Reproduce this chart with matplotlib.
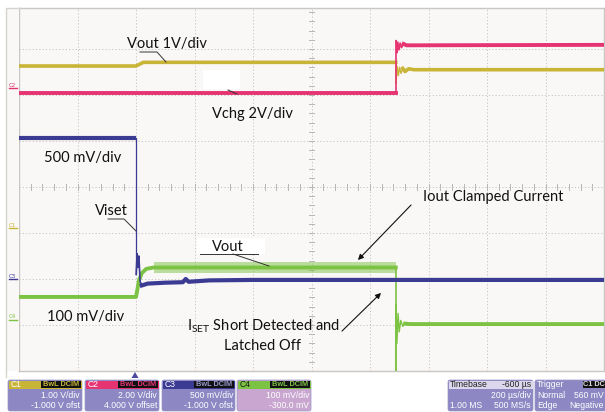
import matplotlib
matplotlib.use("Agg")
import matplotlib.pyplot as plt
from matplotlib.patches import FancyBboxPatch, Rectangle, Polygon
import numpy as np

# ---------------- data (time in µs relative to trigger, level in screen divisions) -------------
c1_t = [-400, 0, 25, 888, 889, 893, 897, 901, 906, 912, 920, 932, 950, 1600]
c1_v = [6.63, 6.63, 6.71, 6.71, 6.26, 6.62, 6.42, 6.60, 6.47, 6.58, 6.51, 6.57, 6.55, 6.55]

c2_t = [-400, 888, 889, 892, 895, 899, 903, 908, 915, 925, 1600]
c2_v = [6.04, 6.04, 7.18, 6.92, 7.15, 6.98, 7.13, 7.03, 7.11, 7.08, 7.09]

c3_pre_t = [-400, 0]
c3_pre_v = [5.06, 5.06]
c3_t = [0.5, 4, 7, 10, 14, 20, 40, 100, 160, 170, 180, 250, 400, 888, 1600]
c3_v = [2.10, 2.55, 2.25, 2.50, 1.95, 1.86, 1.90, 1.92, 1.93, 2.00, 1.94, 1.97, 1.98, 1.98, 1.98]

c4_t = [-400, 0, 5, 10, 20, 35, 60, 888]
c4_v = [1.61, 1.61, 1.78, 1.97, 2.13, 2.22, 2.25, 2.25]
c4_post_t = [888, 889, 892, 896, 900, 905, 912, 920, 935, 1600]
c4_post_v = [0.0, 1.45, 0.60, 1.25, 0.85, 1.10, 0.97, 1.03, 1.02, 1.02]
c4_band_t = [60, 888]
c4_band_lo = [2.13, 2.13]
c4_band_hi = [2.37, 2.37]

ch_labels = ["C1", "C2", "C3", "C4"]
ch_colors = ["#c8b437", "#e63473", "#3b3b94", "#7cc243"]
ch_scale = ["1.00 V/div", "2.00 V/div", "500 mV/div", "100 mV/div"]
ch_offset = ["-1.000 V ofst", "4.000 V offset", "-1.000 V ofst", "-300.0 mV"]

# ---------------- figure -------------------------------------------------------------------------
W, H = 605, 412
fig = plt.figure(figsize=(W / 100, H / 100), dpi=100)
fig.patch.set_facecolor("white")

bg = "#faf8f6"
L, R, T, B = 19, 604, 8, 371
ax = fig.add_axes([L / W, 1 - B / H, (R - L) / W, (B - T) / H])
ax.set_xlim(-400, 1600)
ax.set_ylim(0, (B - T) / 46.0)
ax.set_facecolor(bg)
for s in ax.spines.values():
    s.set_color("#c9c6c4")
    s.set_linewidth(1.0)
ax.set_xticks([])
ax.set_yticks([])

gcol = "#c6c4c2"
for xx in range(-200, 1600, 200):
    ax.axvline(xx, color=gcol, lw=0.7, ls=(0, (1.2, 2.2)), zorder=1)
for yy in range(1, 8):
    ax.axhline(yy, color=gcol, lw=0.7, ls=(0, (1.2, 2.2)), zorder=1)
# centre axis ticks
for yy in np.arange(0.2, 7.85, 0.2):
    ax.plot([600 - 10, 600 + 10], [yy, yy], color="#b8b6b4", lw=0.7, zorder=1)
for xx in np.arange(-360, 1600, 40):
    ax.plot([xx, xx], [4 - 0.065, 4 + 0.065], color="#b8b6b4", lw=0.7, zorder=1)

# traces
ax.plot(c1_t[:4], c1_v[:4], color=ch_colors[0], lw=2.6, zorder=3)
ax.plot(c1_t[4:], c1_v[4:], color=ch_colors[0], lw=1.0, zorder=3)
ax.plot(c1_t[9:], c1_v[9:], color=ch_colors[0], lw=2.6, zorder=3)
ax.plot([888, 888], [c1_v[3], c1_v[4]], color=ch_colors[0], lw=1.2, zorder=3)

ax.plot(c2_t[:2], c2_v[:2], color=ch_colors[1], lw=2.8, zorder=3)
ax.plot(c2_t[2:], c2_v[2:], color=ch_colors[1], lw=1.2, zorder=3)
ax.plot(c2_t[8:], c2_v[8:], color=ch_colors[1], lw=2.8, zorder=3)
ax.plot([888, 888], [c2_v[1], c2_v[2]], color=ch_colors[1], lw=1.2, zorder=3)

ax.fill_between(c4_band_t, c4_band_lo, c4_band_hi, color=ch_colors[3], alpha=0.5, lw=0, zorder=3)
ax.plot(c4_t, c4_v, color=ch_colors[3], lw=2.8, zorder=4)
ax.plot([888, 888], [c4_v[-1], c4_post_v[0]], color=ch_colors[3], lw=1.2, zorder=4)
ax.plot(c4_post_t[:8], c4_post_v[:8], color=ch_colors[3], lw=1.0, zorder=4)
ax.plot(c4_post_t[7:], c4_post_v[7:], color=ch_colors[3], lw=2.8, zorder=4)

ax.plot(c3_pre_t, c3_pre_v, color=ch_colors[2], lw=3.0, zorder=5, solid_capstyle="butt")
ax.plot([0, 0], [c3_pre_v[-1], c3_v[0]], color=ch_colors[2], lw=0.9, zorder=5)
ax.plot(c3_t[:6], c3_v[:6], color=ch_colors[2], lw=1.2, zorder=5)
ax.plot(c3_t[5:], c3_v[5:], color=ch_colors[2], lw=3.0, zorder=5)

# ---------------- overlay in pixel coordinates --------------------------------------------------
ov = fig.add_axes([0, 0, 1, 1], zorder=10)
ov.set_xlim(0, W)
ov.set_ylim(H, 0)
ov.axis("off")
ov.patch.set_alpha(0)

# left margin of the scope screen
ov.add_patch(Rectangle((6, 8), 13, 363, facecolor=bg, edgecolor="none", zorder=0))
ov.plot([6, 6, 19], [377, 8, 8], color="#d6d3d1", lw=1.0)

afont = dict(family="Lato", fontsize=10.5, color="#111111")

# white boxes behind original annotations
ov.add_patch(Rectangle((203, 70), 37, 19, facecolor="white", edgecolor="none", zorder=2))
ov.add_patch(Rectangle((197, 238), 68, 16, facecolor="white", edgecolor="none", zorder=1))

ov.text(167, 44, "Vout 1V/div", ha="center", va="center", **afont)
ov.plot([140, 157, 166], [52, 52, 62], color="#333333", lw=0.7)
ov.text(252, 114, "Vchg 2V/div", ha="center", va="center", **afont)
ov.plot([228, 237], [90, 94], color="#333333", lw=0.7)
ov.text(83, 158, "500 mV/div", ha="center", va="center", **afont)
ov.text(111, 211, "Viset", ha="center", va="center", **afont)
ov.plot([108, 124, 136], [219, 219, 231], color="#333333", lw=0.7)
ov.text(86, 317, "100 mV/div", ha="center", va="center", **afont)
ov.text(228, 247, "Vout", ha="center", va="center", **afont)
ov.plot([200, 258], [254, 254], color="#333333", lw=0.7)
ov.plot([233, 269], [254, 266], color="#333333", lw=0.7)
ov.text(493, 197, "Iout Clamped Current", ha="center", va="center", **afont)
ov.annotate("", xy=(356, 262), xytext=(413, 203),
            arrowprops=dict(arrowstyle="-|>", color="#111111", lw=0.8, mutation_scale=8))
ov.text(263, 326, r"I$_{\mathregular{SET}}$ Short Detected and", ha="center", va="center", **afont)
ov.text(263, 346, "Latched Off", ha="center", va="center", **afont)
ov.annotate("", xy=(383, 291), xytext=(340, 333),
            arrowprops=dict(arrowstyle="-|>", color="#111111", lw=0.8, mutation_scale=8))

# channel ground markers on the left
for lab, col, yy in zip(ch_labels, ch_colors, [228, 88, 279, 320]):
    ov.text(12, yy - 3, lab, color=col, fontsize=4, ha="center", va="center", family="DejaVu Sans")
    ov.plot([9, 17], [yy, yy], color=col, lw=1.0)

# trigger marker
ov.add_patch(Polygon([[131.5, 378], [138.5, 378], [135, 372]], closed=True,
                     facecolor="#4a4aa0", edgecolor="none"))

# ---------------- status bar --------------------------------------------------------------------
sfont = dict(family="Liberation Sans", fontsize=6.2)
body_col = "#8d88c3"
ys, ye, yh = 380, 411, 388

def sbox(x0, x1, hcol, bcol):
    ov.add_patch(FancyBboxPatch((x0, ys), x1 - x0, ye - ys,
                                boxstyle="round,pad=0,rounding_size=2",
                                facecolor=bcol, edgecolor="#9a96c8", lw=0.5))
    ov.add_patch(Rectangle((x0 + 0.5, ys + 0.5), x1 - x0 - 1, yh - ys, facecolor=hcol,
                           edgecolor="none"))

boxes = [(8, 82), (85, 159), (162, 235), (237, 311)]
for i, (x0, x1) in enumerate(boxes):
    bcol = "#c8a6d0" if i == 3 else body_col
    sbox(x0, x1, ch_colors[i], bcol)
    ov.text(x0 + 3, 384.3, ch_labels[i], color="white" if i != 3 else "#1a1a1a",
            ha="left", va="center", **sfont)
    ov.add_patch(Rectangle((x1 - 41, 381), 40, 6.5, facecolor="#111111", edgecolor="none"))
    ov.text(x1 - 21, 384.3, "BwL DCIM", color=ch_colors[i] if i != 2 else "#9a9ad0",
            ha="center", va="center", family="Liberation Sans", fontsize=5.3, fontweight="bold")
    ov.text(x1 - 2, 396, ch_scale[i], color="white", ha="right", va="center", **sfont)
    ov.text(x1 - 2, 406, ch_offset[i], color="white", ha="right", va="center", **sfont)

# timebase
sbox(448, 533, "#dcd7ec", body_col)
ov.text(450, 384.3, "Timebase", color="#222222", ha="left", va="center", **sfont)
ov.text(531, 384.3, "-600 µs", color="#222222", ha="right", va="center", **sfont)
ov.text(531, 396, "200 µs/div", color="white", ha="right", va="center", **sfont)
ov.text(450, 406, "1.00 MS", color="white", ha="left", va="center", **sfont)
ov.text(531, 406, "500 MS/s", color="white", ha="right", va="center", **sfont)

# trigger
sbox(535, 606, body_col, body_col)
ov.text(537, 384.3, "Trigger", color="white", ha="left", va="center", **sfont)
ov.add_patch(Rectangle((583, 381), 22, 6.5, facecolor="#111111", edgecolor="none"))
ov.text(594, 384.3, "C1 DC", color="#dddddd", ha="center", va="center",
        family="Liberation Sans", fontsize=5.3, fontweight="bold")
ov.text(537, 396, "Normal", color="white", ha="left", va="center", **sfont)
ov.text(604, 396, "560 mV", color="white", ha="right", va="center", **sfont)
ov.text(537, 406, "Edge", color="white", ha="left", va="center", **sfont)
ov.text(604, 406, "Negative", color="white", ha="right", va="center", **sfont)

fig.savefig("out.png", dpi=100, facecolor=fig.get_facecolor())
